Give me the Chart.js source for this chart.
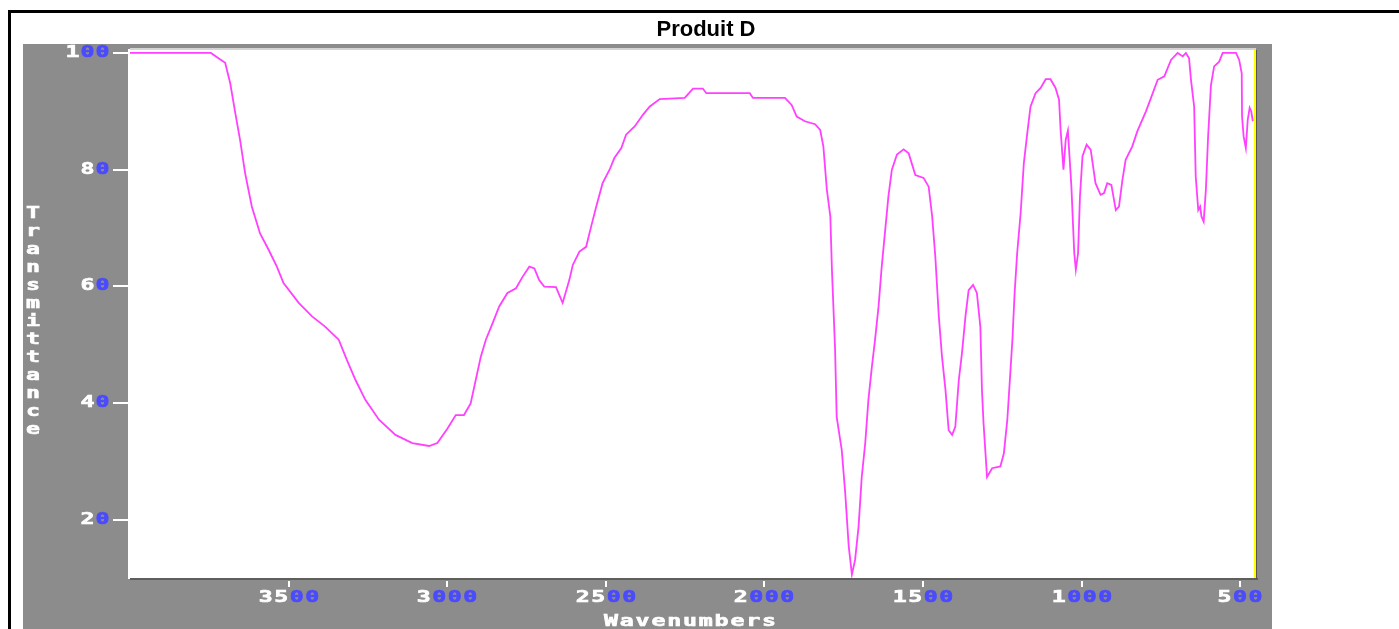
<!DOCTYPE html>
<html>
<head>
<meta charset="utf-8">
<title>Produit D</title>
<script src="https://cdn.jsdelivr.net/npm/chart.js@4/dist/chart.umd.min.js"></script>
<style>
  html, body { margin: 0; padding: 0; background: #fff; overflow: hidden; }
  canvas { display: block; }
</style>
</head>
<body>
<canvas id="irChart" width="1399" height="629"></canvas>
<script>
// Spectre IR (nombre d'onde en cm-1, transmittance en %)
const wavenumbers = [
  4000, 3745, 3721, 3700, 3684, 3668, 3653, 3637, 3616, 3590, 3563, 3537, 3516, 3468,
  3426, 3384, 3342, 3316, 3289, 3258, 3215, 3163, 3110, 3057, 3031, 2999, 2973, 2947,
  2926, 2910, 2894, 2878, 2857, 2836, 2810, 2783, 2762, 2741, 2725, 2710, 2694, 2657,
  2636, 2615, 2604, 2583, 2562, 2546, 2530, 2510, 2488, 2473, 2451, 2436, 2409, 2383,
  2362, 2330, 2251, 2225, 2194, 2183, 2046, 2036, 1935, 1914, 1898, 1872, 1840, 1824,
  1814, 1803, 1792, 1787, 1777, 1772, 1756, 1745, 1734, 1724, 1714, 1703, 1693, 1682,
  1672, 1661, 1651, 1640, 1630, 1619, 1609, 1598, 1582, 1561, 1545, 1524, 1498, 1482,
  1471, 1461, 1450, 1440, 1429, 1419, 1408, 1398, 1387, 1377, 1366, 1356, 1342, 1330,
  1319, 1314, 1309, 1298, 1282, 1256, 1245, 1234, 1226, 1218, 1211, 1203, 1192, 1182,
  1171, 1161, 1145, 1129, 1113, 1098, 1082, 1071, 1066, 1057, 1050, 1043, 1038, 1032,
  1023, 1018, 1011, 1005, 997, 984, 971, 956, 940, 929, 919, 906, 892, 882,
  871, 861, 840, 824, 797, 781, 760, 739, 718, 697, 681, 671, 661, 655,
  645, 640, 632, 626, 622, 615, 608, 601, 592, 582, 566, 555, 513, 503,
  495, 494, 489, 482, 476, 470, 465, 460
];
const transmittance = [
  99.8, 99.8, 98.9, 98.1, 94.6, 89.5, 84.9, 79.2, 73.5, 68.9, 66.1, 63.2, 60.4, 57.0,
  54.7, 52.9, 50.7, 47.2, 43.8, 40.4, 37.0, 34.4, 33.0, 32.5, 33.0, 35.5, 37.8, 37.8,
  39.8, 43.8, 47.8, 50.7, 53.5, 56.4, 58.7, 59.5, 61.5, 63.2, 62.9, 60.9, 59.8, 59.7,
  57.0, 60.9, 63.5, 65.8, 66.6, 70.1, 73.5, 77.5, 79.8, 81.8, 83.5, 85.8, 87.2, 89.2,
  90.6, 91.9, 92.1, 93.7, 93.7, 92.9, 92.9, 92.1, 92.1, 90.9, 88.9, 88.1, 87.6, 86.6,
  83.8, 76.4, 71.8, 62.7, 49.0, 37.5, 31.8, 24.4, 15.3, 10.5, 13.0, 18.7, 27.2, 33.0,
  40.4, 46.1, 50.7, 56.4, 63.2, 69.5, 75.2, 79.8, 82.4, 83.3, 82.6, 78.9, 78.4, 76.9,
  71.8, 64.9, 54.7, 47.8, 42.1, 35.2, 34.4, 35.8, 43.8, 48.4, 54.7, 59.2, 60.1, 58.7,
  52.9, 42.1, 36.4, 27.2, 28.7, 29.0, 31.2, 37.0, 43.8, 50.7, 58.7, 65.5, 72.4, 80.9,
  86.1, 90.6, 92.9, 93.8, 95.3, 95.3, 93.8, 91.8, 86.6, 79.8, 84.9, 86.5, 82.1, 76.9,
  65.5, 62.7, 65.5, 75.2, 82.1, 84.1, 83.2, 77.5, 75.5, 75.8, 77.5, 77.2, 72.9, 73.5,
  78.1, 81.5, 83.8, 86.4, 89.8, 92.1, 95.2, 95.8, 98.6, 99.8, 99.2, 99.8, 98.9, 95.2,
  90.6, 78.6, 72.9, 73.5, 71.8, 70.9, 76.4, 85.5, 94.3, 97.5, 98.3, 99.8, 99.8, 98.6,
  96.3, 88.9, 85.5, 83.5, 88.4, 90.4, 89.8, 88.1
];
const xTicks = [3500, 3000, 2500, 2000, 1500, 1000, 500];
const yTicks = [20, 40, 60, 80, 100];
const chartTitle = "Produit D";
const xTitle = "Wavenumbers";
const yTitle = "Transmittance";

const PANEL = "#8c8c8c";
const BLUE = "#4a4aff";
const PINK = "#ff40ff";

// texte façon police bitmap : large, blanc, les zéros en bleu
const pixelText = (ctx, text, x, y, align, adv) => {
  const w = text.length * adv;
  let sx = align === "right" ? x - w : align === "center" ? x - w / 2 : x;
  ctx.save();
  ctx.font = 'bold 15px "DejaVu Sans Mono"';
  ctx.textBaseline = "middle";
  ctx.textAlign = "center";
  ctx.lineWidth = 0.6;
  for (let i = 0; i < text.length; i++) {
    const ch = text[i];
    ctx.fillStyle = ch === "0" ? BLUE : "#ffffff";
    ctx.strokeStyle = ctx.fillStyle;
    ctx.save();
    ctx.translate(sx + adv * i + adv / 2, y);
    ctx.scale(1.55, 1);
    ctx.fillText(ch, 0, 0);
    ctx.strokeText(ch, 0, 0);
    ctx.restore();
  }
  ctx.restore();
};

const frame = {
  id: "frame",
  beforeDraw(chart) {
    const { ctx, chartArea: a } = chart;
    ctx.save();
    ctx.fillStyle = "#ffffff";
    ctx.fillRect(0, 0, chart.width, chart.height);
    ctx.strokeStyle = "#000000";
    ctx.lineWidth = 3;
    ctx.strokeRect(9.5, 11.5, 1600, 900);
    ctx.fillStyle = PANEL;
    ctx.fillRect(23, 44, 1272 - 23, chart.height - 44);
    ctx.fillStyle = "#ffffff";
    ctx.fillRect(a.left, a.top, a.right - a.left, a.bottom - a.top);
    // titre
    ctx.fillStyle = "#000000";
    ctx.font = 'bold 22px "Liberation Sans"';
    ctx.textAlign = "center";
    ctx.textBaseline = "middle";
    ctx.fillText(chartTitle, 706, 30);
    ctx.restore();
  },
  afterDraw(chart) {
    const { ctx, chartArea: a, scales } = chart;
    ctx.save();
    // bords de la zone de tracé
    ctx.fillStyle = "#d4d4d4";
    ctx.fillRect(a.left, a.top - 2, a.right - a.left, 2);
    ctx.fillStyle = "#ffffff";
    ctx.fillRect(a.left - 2, a.top - 1, 2, a.bottom - a.top + 2);
    ctx.fillStyle = "#5e5e5e";
    ctx.fillRect(a.left, a.bottom, a.right - a.left + 2, 2);
    ctx.fillStyle = "#ffff00";
    ctx.fillRect(a.right - 2, a.top, 2, a.bottom - a.top);
    ctx.fillStyle = "#555555";
    ctx.fillRect(a.right, a.top, 1, a.bottom - a.top + 1);

    // graduations Y
    yTicks.forEach((v) => {
      const y = Math.round(scales.y.getPixelForValue(v));
      ctx.fillStyle = "#ffffff";
      ctx.fillRect(a.left - 17, y, 15, 2);
      pixelText(ctx, String(v), a.left - 20, y + 1, "right", 15);
    });
    // graduations X
    xTicks.forEach((v) => {
      const x = Math.round(scales.x.getPixelForValue(v));
      ctx.fillStyle = "#ffffff";
      ctx.fillRect(x - 1, a.bottom + 3, 2, 6);
      pixelText(ctx, String(v), x, a.bottom + 20, "center", 15.5);
    });

    // titres des axes
    for (let i = 0; i < yTitle.length; i++) {
      pixelText(ctx, yTitle[i], 33, 214 + i * 18, "center", 14);
    }
    pixelText(ctx, xTitle, (a.left + a.right) / 2 - 3, a.bottom + 44, "center", 15.8);
    ctx.restore();
  }
};

const ctx = document.getElementById("irChart").getContext("2d");
new Chart(ctx, {
  type: "line",
  data: {
    datasets: [{
      label: chartTitle,
      data: wavenumbers.map((w, i) => ({ x: w, y: transmittance[i] })),
      borderColor: PINK,
      borderWidth: 1.8,
      pointRadius: 0,
      tension: 0,
      fill: false
    }]
  },
  options: {
    responsive: false,
    animation: false,
    events: [],
    layout: { padding: { left: 130, top: 50, right: 1399 - 1256, bottom: 629 - 578 } },
    plugins: {
      legend: { display: false },
      tooltip: { enabled: false },
      title: { display: false }
    },
    scales: {
      x: { type: "linear", reverse: true, min: 450, max: 4000, display: false },
      y: { type: "linear", min: 9.9, max: 100.3, display: false }
    }
  },
  plugins: [frame]
});
</script>
</body>
</html>
